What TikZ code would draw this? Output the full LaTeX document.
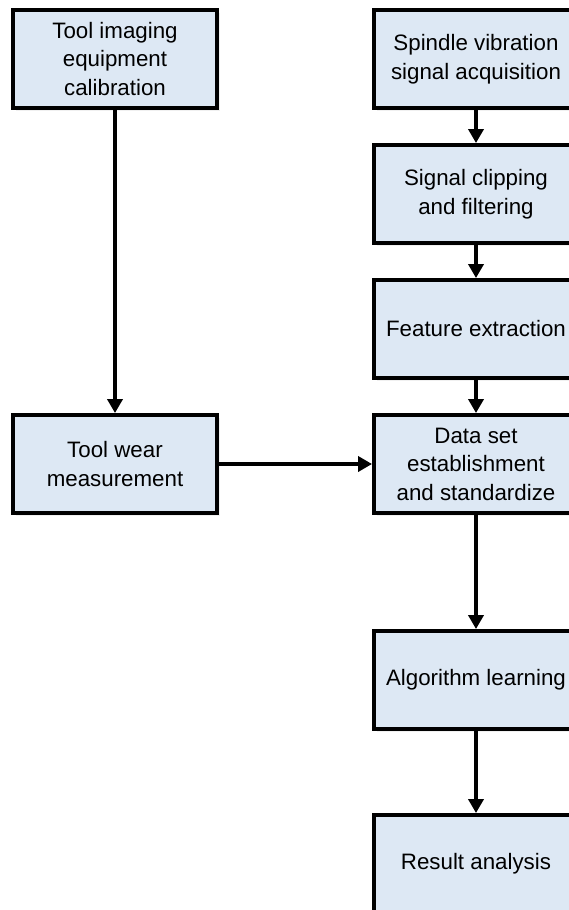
\documentclass[tikz,border=0pt]{standalone}
\usepackage{fontspec}
\setmainfont{Liberation Sans}
\usepackage{tikz}
\usetikzlibrary{positioning, shadows, arrows.meta}
\definecolor{boxblue}{HTML}{DDE8F4}
\tikzstyle{process} = [rectangle, minimum width=4.08cm, minimum height=1.96cm, text centered, align=center, line width=2.2pt, draw=black, fill=boxblue, drop shadow={opacity=0.12, shadow xshift=0.05cm, shadow yshift=-0.05cm}]
\tikzstyle{arrow} = [line width=2.2pt,-{Triangle[length=0.28cm,width=0.3cm]}]
\tikzstyle{every node}=[font=\fontsize{12.7pt}{16.2pt}\selectfont]

\begin{document}
\begin{tikzpicture}[node distance=2.7cm,]
		\useasboundingbox (0,0) rectangle (11.38,-18.2);
		\clip (0,0) rectangle (11.38,-18.2);
		\node (calib) [process] at (2.3,-1.18) {Tool imaging\\equipment\\calibration};
		\node (wear) [process, below of=calib, yshift=-5.4cm] {Tool wear\\measurement};
		\node (spindle) [process] at (9.52,-1.18) {Spindle vibration\\signal acquisition};
		\node (clip) [process, below of=spindle] {Signal clipping\\and filtering};
		\node (feat) [process, below of=clip] {Feature extraction};
		\node (data) [process, below of=feat] {Data set\\establishment\\and standardize};
		\node (algo) [process, below of=data, yshift=-1.62cm] {Algorithm learning};
		\node (result) [process, below of=algo, yshift=-0.98cm] {Result analysis};
		\draw [arrow](calib) -- (wear);
		\draw [arrow](wear) -- (data);
		\draw [arrow](spindle) -- (clip);
		\draw [arrow](clip) -- (feat);
		\draw [arrow](feat) -- (data);
		\draw [arrow](data) -- (algo);
		\draw [arrow](algo) -- (result);
		
	\end{tikzpicture}
\end{document}
